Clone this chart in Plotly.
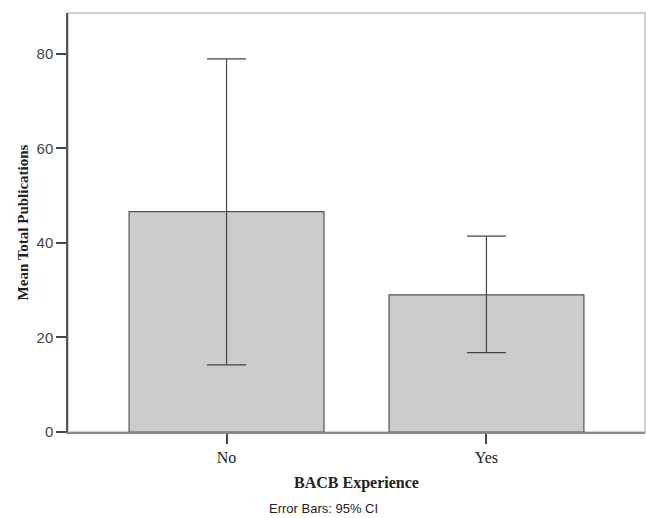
import plotly.graph_objects as go

categories = ["No", "Yes"]
means = [46.6, 29.0]
ci_upper = [78.9, 41.4]
ci_lower = [14.2, 16.8]
y_ticks = [0, 20, 40, 60, 80]

err_plus = [u - m for u, m in zip(ci_upper, means)]
err_minus = [m - l for m, l in zip(means, ci_lower)]

fig = go.Figure()
fig.add_trace(go.Bar(
    x=categories, y=means, width=0.75,
    marker=dict(color="#cccccc", line=dict(color="#555555", width=1.2)),
    error_y=dict(type="data", array=err_plus, arrayminus=err_minus,
                 color="#444444", thickness=1.2, width=19.5),
    showlegend=False,
))

fig.update_layout(
    width=646, height=518,
    margin=dict(l=68, r=1, t=13, b=86),
    paper_bgcolor="white", plot_bgcolor="white",
    bargap=0.25,
    xaxis=dict(
        range=[-0.61, 1.61], showgrid=False, zeroline=False,
        showline=True, linecolor="#888888", linewidth=1.5,
        ticks="outside", ticklen=10, tickcolor="#444444", tickwidth=1.5,
        tickfont=dict(family="Liberation Serif", size=16, color="#222222"),
        title=dict(text="<b>BACB Experience</b>", standoff=12,
                   font=dict(family="Liberation Serif", size=16, color="#222222")),
    ),
    yaxis=dict(
        range=[0, 88.6], tickvals=y_ticks, showgrid=False, zeroline=False,
        showline=True, linecolor="#555555", linewidth=1.5,
        ticks="outside", ticklen=10, tickcolor="#444444", tickwidth=1.5,
        tickfont=dict(family="Liberation Sans", size=15, color="#444444"),
        title=dict(text="<b>Mean Total Publications</b>", standoff=4,
                   font=dict(family="Liberation Serif", size=15, color="#222222")),
    ),
    shapes=[dict(type="rect", xref="paper", yref="paper", x0=0, x1=1, y0=0, y1=1,
                 line=dict(color="#d0d0d0", width=2), layer="below")],
    annotations=[dict(text="Error Bars: 95% CI", xref="paper", yref="paper",
                      x=0.442, y=0, yshift=-76, yanchor="middle", showarrow=False,
                      font=dict(family="Liberation Sans", size=13, color="#222222"))],
)

fig.write_html("out.html", config={"displayModeBar": False},
               post_script="document.body.style.margin='0';document.body.style.overflow='hidden';")
